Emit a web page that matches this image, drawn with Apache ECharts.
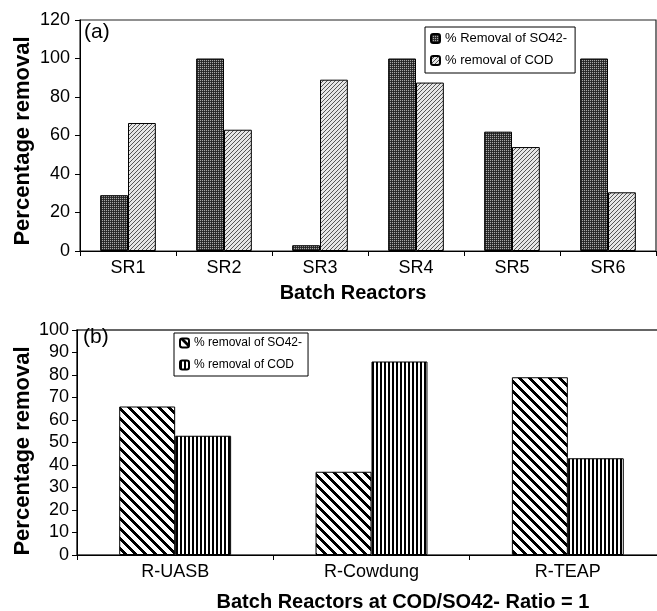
<!DOCTYPE html>
<html><head><meta charset="utf-8">
<script src="https://cdn.jsdelivr.net/npm/echarts@6/dist/echarts.min.js"></script>
<style>html,body{margin:0;padding:0;background:#fff}#c{width:657px;height:611px}</style>
</head><body><div id="c"></div>
<script>
const topCategories = ['SR1', 'SR2', 'SR3', 'SR4', 'SR5', 'SR6'];
const topSO4 = [29, 100, 3, 100, 62, 100];
const topCOD = [66.5, 63, 89, 87.5, 54, 30.5];
const topTicks = [0, 20, 40, 60, 80, 100, 120];
const bottomCategories = ['R-UASB', 'R-Cowdung', 'R-TEAP'];
const bottomSO4 = [66, 37, 79];
const bottomCOD = [53, 86, 43];
const bottomTicks = [0, 10, 20, 30, 40, 50, 60, 70, 80, 90, 100];
const names = {a1: '% Removal of SO42-', a2: '% removal of COD', b1: '% removal of SO42-', b2: '% removal of COD'};

function tile(w, h, fn) {
  const c = document.createElement('canvas'); c.width = w; c.height = h;
  const g = c.getContext('2d');
  for (let y = 0; y < h; y++) for (let x = 0; x < w; x++) { g.fillStyle = fn(x, y); g.fillRect(x, y, 1, 1); }
  return {image: c, repeat: 'repeat'};
}
const patA = tile(4, 4, (x, y) => ((x % 2 === 0 && y % 2 === 0) ? '#a8a8a8' : ((x + y) % 2 === 1 ? '#333' : '#222')));
const patB = tile(4, 4, (x, y) => ((x + y) % 4 === 3 ? '#555' : '#e6e6e6'));
const patC = tile(10, 10, (x, y) => (((x - y + 20) % 10) < 4 ? '#000' : '#fff'));
const patD = tile(4, 1, (x) => (x < 2 ? '#000' : '#fff'));

const FF = 'Arial, "Liberation Sans", sans-serif';
const chart = echarts.init(document.getElementById('c'), null, {renderer: 'canvas'});
const axisY = (idx, max, itv) => ({
  type: 'value', gridIndex: idx, min: 0, max: max, interval: itv,
  axisLine: {show: true, lineStyle: {color: '#000', width: 1}},
  axisTick: {show: true, inside: false, length: 5, lineStyle: {color: '#000'}},
  splitLine: {show: false},
  axisLabel: {color: '#000', fontSize: 18, fontFamily: FF, margin: idx === 0 ? 10 : 8}
});
const axisX = (idx, data) => ({
  type: 'category', gridIndex: idx, data: data,
  axisLine: {show: true, lineStyle: {color: '#000', width: 1}},
  axisTick: {show: true, length: 5, lineStyle: {color: '#000'}},
  axisLabel: {color: '#000', fontSize: 18, fontFamily: FF, margin: 8}
});
const bar = (name, xi, yi, data, pat, gap) => ({
  type: 'bar', name: name, xAxisIndex: xi, yAxisIndex: yi, data: data,
  barGap: '0%', barCategoryGap: gap,
  itemStyle: {color: pat, borderColor: '#000', borderWidth: 1},
  emphasis: {disabled: true}, animation: false
});
chart.setOption({
  animation: false,
  grid: [
    {left: 80, width: 576, top: 20, height: 231, show: true, borderColor: '#222', borderWidth: 1.2, backgroundColor: 'transparent', outerBoundsMode: 'none', containLabel: false},
    {left: 77, width: 589, top: 330, height: 225, show: true, borderColor: '#333', borderWidth: 1.6, backgroundColor: 'transparent', outerBoundsMode: 'none', containLabel: false}
  ],
  xAxis: [axisX(0, topCategories), axisX(1, bottomCategories)],
  yAxis: [axisY(0, topTicks[topTicks.length - 1], topTicks[1] - topTicks[0]), axisY(1, bottomTicks[bottomTicks.length - 1], bottomTicks[1] - bottomTicks[0])],
  legend: [
    {data: ['a1', 'a2'], formatter: n => names[n], orient: 'vertical', left: 425, top: 27, padding: [4, 8, 5, 5],
     itemWidth: 9, itemHeight: 9, itemGap: 7, borderColor: '#000', borderWidth: 1, backgroundColor: '#fff',
     textStyle: {color: '#000', fontSize: 13, fontFamily: FF, lineHeight: 15}, selectedMode: false},
    {data: ['b1', 'b2'], formatter: n => names[n], orient: 'vertical', left: 174, top: 333, padding: [3, 6, 4, 5],
     itemWidth: 9, itemHeight: 9, itemGap: 8, borderColor: '#000', borderWidth: 1, backgroundColor: '#fff',
     textStyle: {color: '#000', fontSize: 12, fontFamily: FF, lineHeight: 14}, selectedMode: false}
  ],
  series: [
    bar('a1', 0, 0, topSO4, patA, '42%'),
    bar('a2', 0, 0, topCOD, patB, '42%'),
    bar('b1', 1, 1, bottomSO4, patC, '43%'),
    bar('b2', 1, 1, bottomCOD, patD, '43%')
  ],
  graphic: [
    {type: 'text', left: 84, top: 22, style: {text: '(a)', fontSize: 21, fontFamily: FF, fill: '#000'}},
    {type: 'text', left: 83, top: 327, style: {text: '(b)', fontSize: 21, fontFamily: FF, fill: '#000'}},
    {type: 'text', x: 23, y: 141, rotation: Math.PI / 2, style: {text: 'Percentage removal', fontSize: 22, fontWeight: 'bold', fontFamily: FF, fill: '#000', align: 'center', verticalAlign: 'middle'}},
    {type: 'text', x: 23, y: 451, rotation: Math.PI / 2, style: {text: 'Percentage removal', fontSize: 22, fontWeight: 'bold', fontFamily: FF, fill: '#000', align: 'center', verticalAlign: 'middle'}},
    {type: 'text', x: 353, y: 293, style: {text: 'Batch Reactors', fontSize: 20, fontWeight: 'bold', fontFamily: FF, fill: '#000', align: 'center', verticalAlign: 'middle'}},
    {type: 'text', x: 403, y: 602, style: {text: 'Batch Reactors at COD/SO42- Ratio = 1', fontSize: 20, fontWeight: 'bold', fontFamily: FF, fill: '#000', align: 'center', verticalAlign: 'middle'}}
  ]
});
</script></body></html>
